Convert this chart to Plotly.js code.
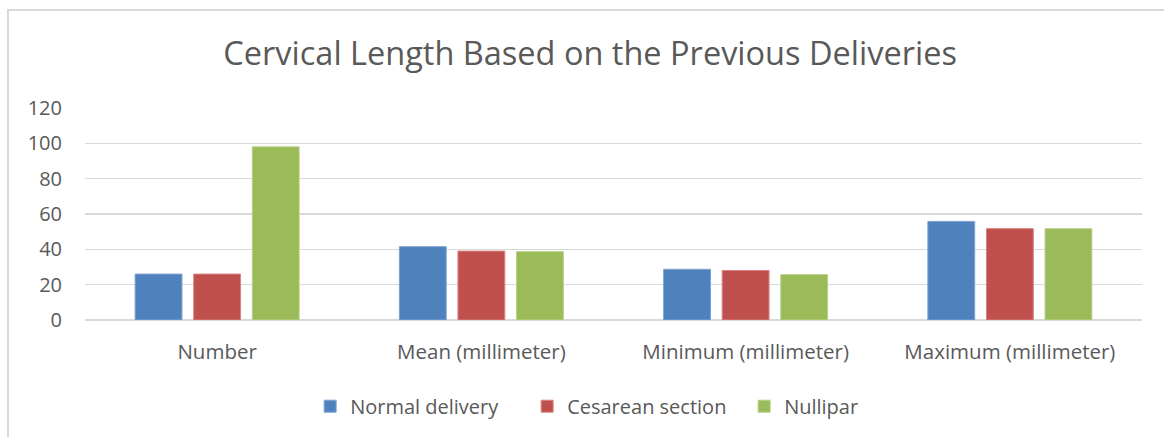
<!DOCTYPE html>
<html>
<head>
<meta charset="utf-8">
<script src="https://cdn.plot.ly/plotly-3.0.1.min.js"></script>
<style>
html,body{margin:0;padding:0;background:#fff;}
#frame{position:absolute;left:7px;top:9px;width:1200px;height:500px;border:2px solid #d9d9d9;box-sizing:border-box;}
#chart{position:absolute;left:0;top:0;width:1164px;height:437px;}
</style>
</head>
<body>
<div id="frame"></div>
<div id="chart"></div>
<script>
const categories = ["Number", "Mean (millimeter)", "Minimum (millimeter)", "Maximum (millimeter)"];
const normalDelivery = [26, 41.5, 28.7, 55.8];
const cesareanSection = [26, 39, 28, 51.7];
const nullipar = [98, 38.7, 25.7, 51.7];
const seriesNames = ["Normal delivery", "Cesarean section", "Nullipar"];
const yTicks = [0, 20, 40, 60, 80, 100, 120];

const colors = ["#4F81BD", "#C0504D", "#9BBB59"];
const lineColors = ["#7FA3D1", "#D98381", "#B9D08A"];
const data = [normalDelivery, cesareanSection, nullipar].map((vals, i) => ({
  type: "bar",
  name: seriesNames[i],
  x: categories,
  y: vals,
  marker: {color: colors[i], line: {color: lineColors[i], width: 1}},
  hoverinfo: "x+y+name"
}));

const FONT = "'Open Sans', 'Noto Sans', sans-serif";
const layout = {
  width: 1164, height: 437,
  paper_bgcolor: "rgba(0,0,0,0)",
  plot_bgcolor: "rgba(0,0,0,0)",
  margin: {l: 85, r: 22, t: 108, b: 116},
  font: {family: FONT, color: "#595959", size: 20},
  title: {text: "Cervical Length Based on the Previous Deliveries", x: 0.507, xanchor: "center", y: 0.878, yanchor: "middle",
          font: {size: 32.5, color: "#595959", family: FONT}},
  barmode: "group",
  bargap: 0.335,
  bargroupgap: 0.2,
  xaxis: {type: "category", showgrid: false, zeroline: false, showline: false, ticks: "",
          tickfont: {size: 20.5, color: "#595959", family: FONT}, ticklabelstandoff: 17},
  yaxis: {range: [0, 120], tickvals: yTicks, ticktext: yTicks.map(String), showgrid: true, gridcolor: "#D9D9D9", gridwidth: 1.5,
          zeroline: true, zerolinecolor: "#D9D9D9", zerolinewidth: 1.5, showline: false, ticks: "",
          tickfont: {size: 20, color: "#595959", family: FONT}, ticklabelstandoff: 22},
  legend: {orientation: "h", x: 0.213, xanchor: "left", y: -0.40, yanchor: "middle",
           entrywidth: 172, entrywidthmode: "pixels",
           font: {size: 20, color: "#595959", family: FONT}, itemwidth: 30, tracegroupgap: 0, traceorder: "normal"},
  showlegend: true
};

Plotly.newPlot("chart", data, layout, {displayModeBar: false, staticPlot: true});
</script>
</body>
</html>
